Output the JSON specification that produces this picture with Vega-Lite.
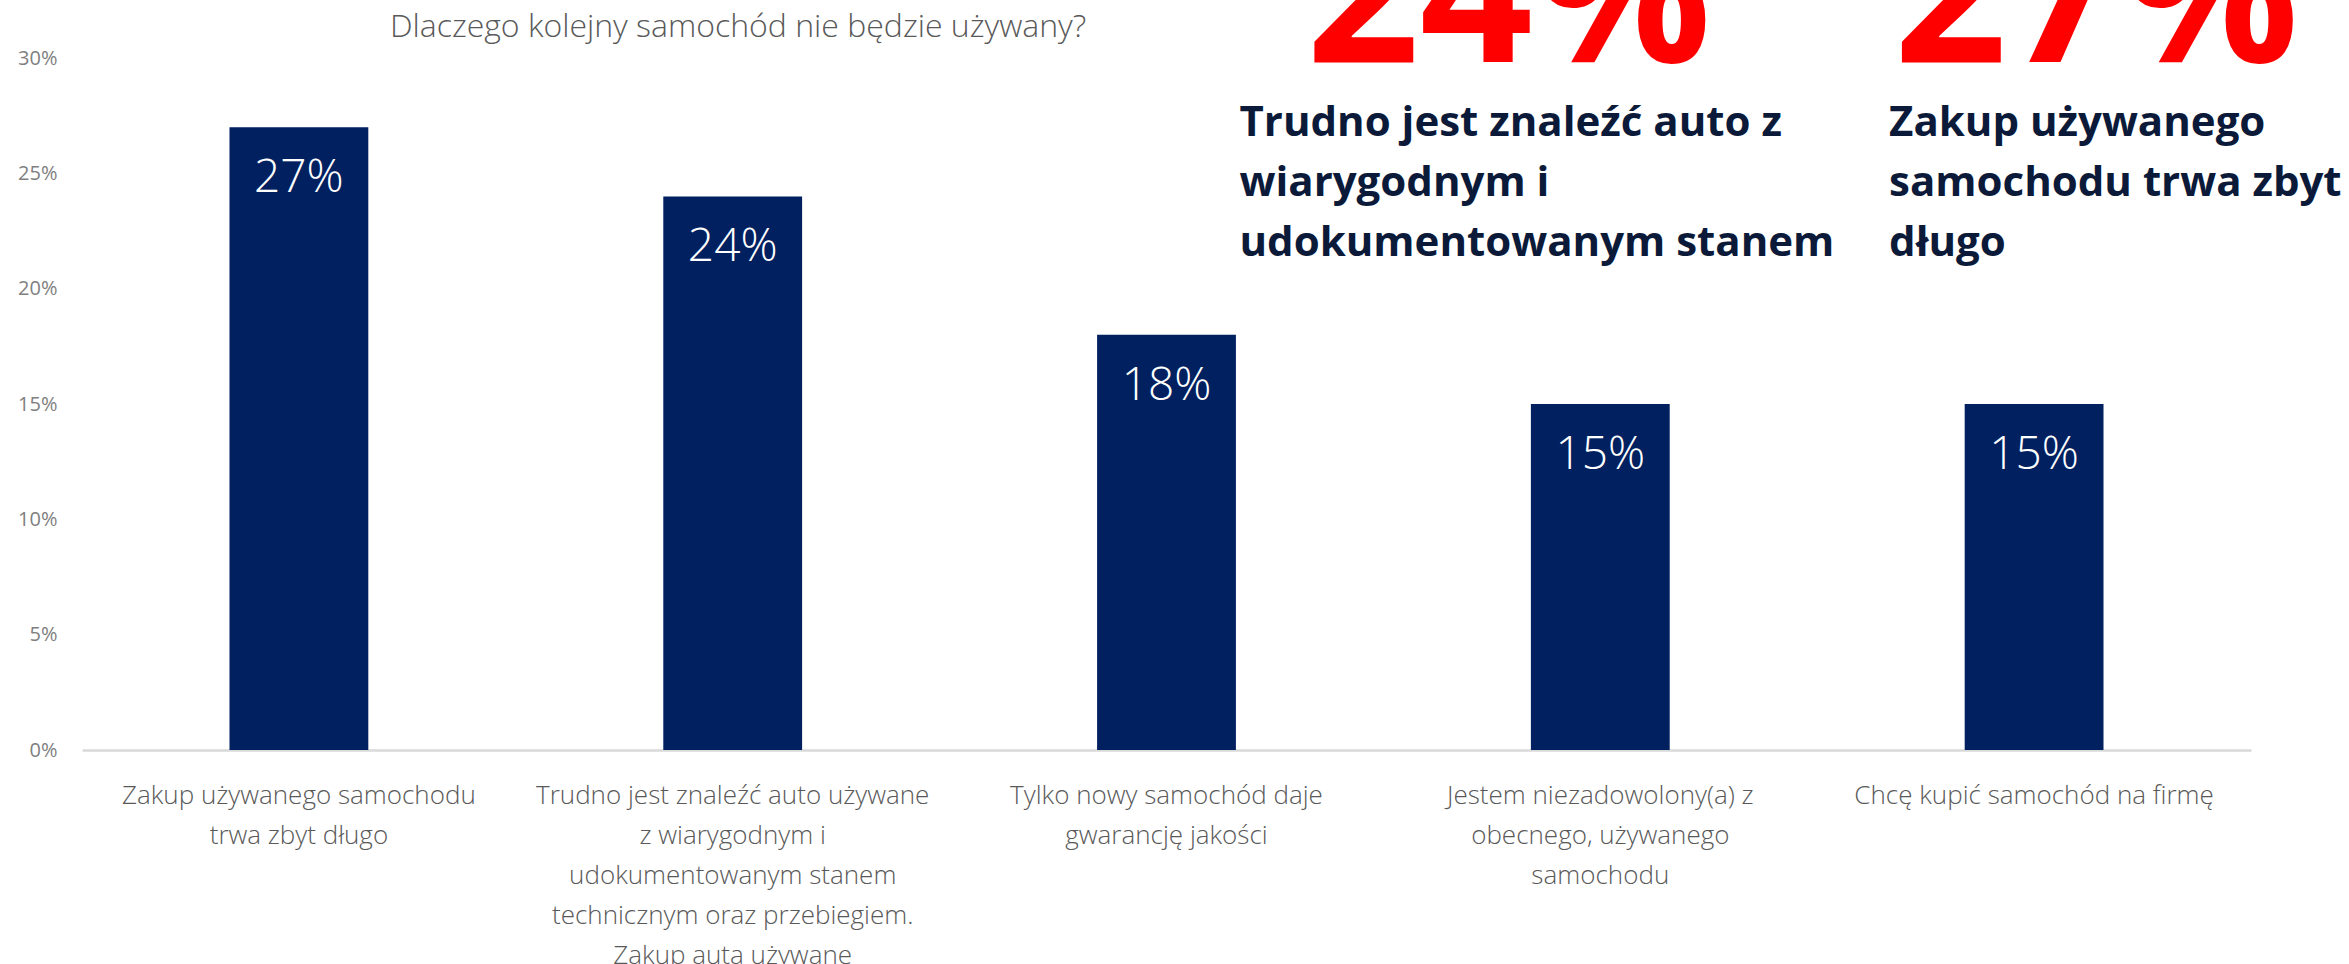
{
  "$schema": "https://vega.github.io/schema/vega-lite/v6.json",
  "width": 2169,
  "height": 692,
  "autosize": {"type": "none"},
  "padding": {"left": 82, "top": 58, "right": 98, "bottom": 214},
  "background": "#ffffff",
  "config": {"view": {"stroke": null}, "font": "Open Sans"},
  "datasets": {
    "bars": [
      {"reason": "Zakup używanego samochodu\ntrwa zbyt długo", "share": 0.27},
      {"reason": "Trudno jest znaleźć auto używane\nz wiarygodnym i\nudokumentowanym stanem\ntechnicznym oraz przebiegiem.\nZakup auta używane", "share": 0.24},
      {"reason": "Tylko nowy samochód daje\ngwarancję jakości", "share": 0.18},
      {"reason": "Jestem niezadowolony(a) z\nobecnego, używanego\nsamochodu", "share": 0.15},
      {"reason": "Chcę kupić samochód na firmę", "share": 0.15}
    ],
    "heading": [{"note": "Dlaczego kolejny samochód nie będzie używany?", "reason": "Zakup używanego samochodu\ntrwa zbyt długo"}],
    "red24": [{"note": "24%", "reason": "Tylko nowy samochód daje\ngwarancję jakości"}],
    "red27": [{"note": "27%", "reason": "Chcę kupić samochód na firmę"}],
    "note1": [{"note": "Trudno jest znaleźć auto z\nwiarygodnym i\nudokumentowanym stanem", "reason": "Tylko nowy samochód daje\ngwarancję jakości"}],
    "note2": [{"note": "Zakup używanego\nsamochodu trwa zbyt\ndługo", "reason": "Chcę kupić samochód na firmę"}]
  },
  "layer": [
    {
      "data": {"name": "bars"},
      "mark": {"type": "bar", "color": "#002060"},
      "encoding": {
        "x": {
          "field": "reason",
          "type": "nominal",
          "sort": null,
          "scale": {"paddingInner": 0.68, "paddingOuter": 0.34},
          "axis": {
            "title": null,
            "labelAngle": 0,
            "labelExpr": "split(datum.label, '\\n')",
            "labelFont": "Open Sans",
            "labelFontWeight": 300,
            "labelFontSize": 26,
            "labelColor": "#595959",
            "labelLineHeight": 40,
            "labelBaseline": "alphabetic",
            "labelPadding": 53,
            "labelLimit": 0,
            "ticks": false,
            "tickSize": 0,
            "domainColor": "#d9d9d9",
            "domainWidth": 2.5,
            "grid": false
          }
        },
        "y": {
          "field": "share",
          "type": "quantitative",
          "scale": {"domain": [0, 0.3], "nice": false},
          "axis": {
            "title": null,
            "values": [0, 0.05, 0.1, 0.15, 0.2, 0.25, 0.3],
            "format": ".0%",
            "labelFont": "Open Sans",
            "labelFontSize": 20,
            "labelColor": "#7f7f7f",
            "labelPadding": 25,
            "ticks": false,
            "tickSize": 0,
            "domain": false,
            "grid": false
          }
        }
      }
    },
    {
      "data": {"name": "bars"},
      "mark": {"type": "text", "color": "#ffffff", "font": "Open Sans", "fontWeight": 300, "fontSize": 46, "baseline": "alphabetic", "align": "center", "dy": 65},
      "encoding": {
        "x": {"field": "reason", "type": "nominal", "sort": null},
        "y": {"field": "share", "type": "quantitative"},
        "text": {"field": "share", "type": "quantitative", "format": ".0%"}
      }
    },
    {
      "data": {"name": "heading"},
      "mark": {"type": "text", "color": "#595959", "font": "Open Sans", "fontWeight": 300, "fontSize": 32, "baseline": "alphabetic", "align": "left", "dx": 91},
      "encoding": {
        "x": {"field": "reason", "type": "nominal", "sort": null},
        "y": {"datum": 0.3091, "type": "quantitative"},
        "text": {"field": "note", "type": "nominal"}
      }
    },
    {
      "data": {"name": "red24"},
      "mark": {"type": "text", "color": "#ff0000", "font": "Open Sans", "fontWeight": "bold", "fontSize": 198, "baseline": "alphabetic", "align": "left", "dx": 140},
      "encoding": {
        "x": {"field": "reason", "type": "nominal", "sort": null},
        "y": {"datum": 0.2983, "type": "quantitative"},
        "text": {"field": "note", "type": "nominal"}
      }
    },
    {
      "data": {"name": "red27"},
      "mark": {"type": "text", "color": "#ff0000", "font": "Open Sans", "fontWeight": "bold", "fontSize": 198, "baseline": "alphabetic", "align": "left", "dx": -140},
      "encoding": {
        "x": {"field": "reason", "type": "nominal", "sort": null},
        "y": {"datum": 0.2983, "type": "quantitative"},
        "text": {"field": "note", "type": "nominal"}
      }
    },
    {
      "data": {"name": "note1"},
      "mark": {"type": "text", "color": "#0c1a3a", "font": "Open Sans", "fontWeight": "bold", "fontSize": 42, "lineHeight": 60, "lineBreak": "\n", "baseline": "alphabetic", "align": "left", "dx": 73},
      "encoding": {
        "x": {"field": "reason", "type": "nominal", "sort": null},
        "y": {"datum": 0.2662, "type": "quantitative"},
        "text": {"field": "note", "type": "nominal"}
      }
    },
    {
      "data": {"name": "note2"},
      "mark": {"type": "text", "color": "#0c1a3a", "font": "Open Sans", "fontWeight": "bold", "fontSize": 42, "lineHeight": 60, "lineBreak": "\n", "baseline": "alphabetic", "align": "left", "dx": -145},
      "encoding": {
        "x": {"field": "reason", "type": "nominal", "sort": null},
        "y": {"datum": 0.2662, "type": "quantitative"},
        "text": {"field": "note", "type": "nominal"}
      }
    }
  ]
}
